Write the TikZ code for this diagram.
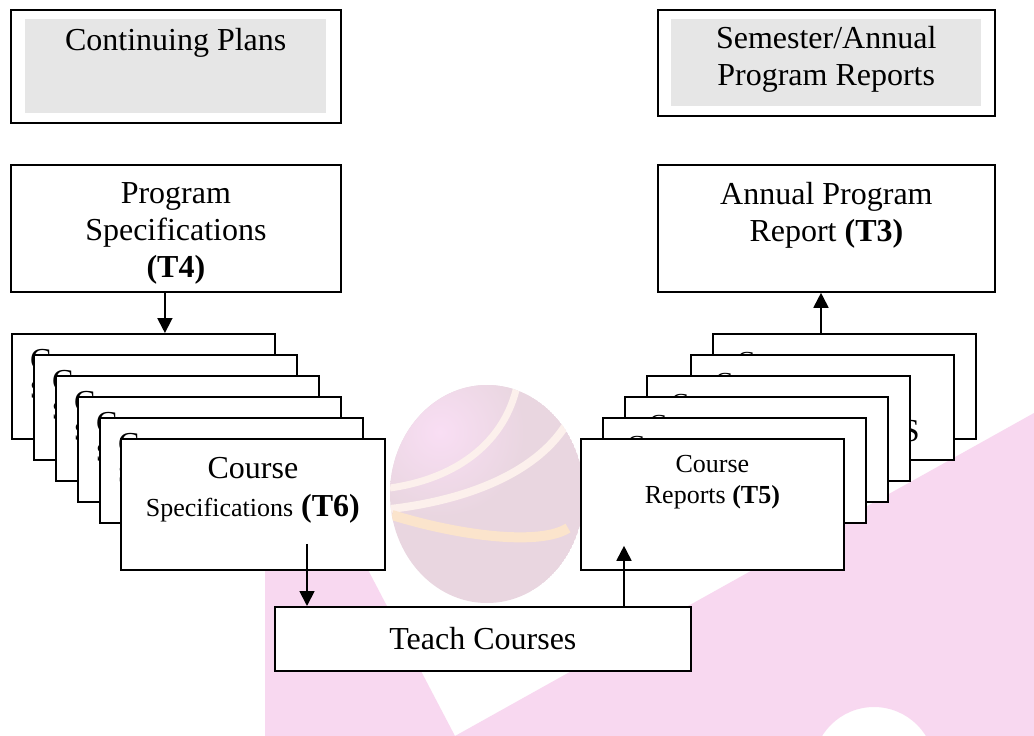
\documentclass[tikz,border=0pt]{standalone}
\usepackage{fontspec}
\setmainfont{Liberation Serif}
\usetikzlibrary{positioning, calc, arrows.meta}
\definecolor{BoxGrey}{HTML}{E6E6E6}
\definecolor{MarkPink}{HTML}{F8D8F0}
\definecolor{MarkSphere}{HTML}{E9D6E0}
\definecolor{MarkHigh}{HTML}{F9DEF4}
\definecolor{MarkCream}{HTML}{FCF0EC}
\definecolor{MarkGold}{HTML}{FBE4CC}
\newcommand{\txtbig}{\fontsize{32}{37}\selectfont}
\newcommand{\txtsmall}{\fontsize{26}{31}\selectfont}

\begin{document}
\begin{tikzpicture}[x=1pt, y=-1pt,
    box/.style={draw, line width=1.8pt, fill=white, inner sep=0pt, anchor=north west},
    greybox/.style={fill=BoxGrey, inner sep=0pt, anchor=north west},
    bigtxt/.style={font=\txtbig, inner sep=0pt, align=center},
    smalltxt/.style={font=\txtsmall, inner sep=0pt, align=center},
    arr/.style={-{Triangle[width=15pt,length=15pt]}, line width=1.8pt}]
    \useasboundingbox (0,0) rectangle (1034,736);
    \fill[white] (0,0) rectangle (1034,736);

    % Watermark
    \begin{scope}
        \clip (0,0) rectangle (1034,736);
        \fill[MarkPink] (265,545) -- (265,736) -- (455,736) -- (355,545) -- cycle;
        \fill[MarkPink, even odd rule] (455,736) -- (1034,413) -- (1034,736) -- cycle
            (874,768) circle (61);
    \end{scope}
    \begin{scope}
        \clip (487,494) ellipse (97 and 109);
        \fill[MarkSphere] (487,494) ellipse (97 and 109);
        \shade[inner color=MarkHigh, outer color=MarkSphere] (440,432) circle (85);
        \draw[MarkCream, line width=7pt] (517,386) .. controls (505,440) and (460,478) .. (390,488);
        \draw[MarkCream, line width=8pt] (572,414) .. controls (545,470) and (470,500) .. (390,509);
        \draw[MarkGold, line width=10pt] (392,515) .. controls (460,536) and (540,546) .. (568,528);
    \end{scope}

    % Top row
    \node[box, minimum width=330pt, minimum height=113pt] (plans) at (10,9) {};
    \node[greybox, minimum width=301pt, minimum height=94pt] (plansin) at (25,19) {};
    \node[bigtxt, anchor=base] (planstext) at ($(plansin.north)+(0,31.5)$) {Continuing Plans};

    \node[box, minimum width=337pt, minimum height=106pt] (reports) at (657,9) {};
    \node[greybox, minimum width=310pt, minimum height=87pt] (reportsin) at (671,19) {};
    \node[bigtxt] (reportstext) at ($(reportsin.center)+(0,-3.5)$) {Semester/Annual\\Program Reports};

    \node[box, minimum width=330pt, minimum height=127pt] (progspec) at (10,164) {};
    \node[bigtxt] (progtext) at ($(progspec.center)+(0,5.5)$) {Program\\Specifications\\\textbf{(T4)}};

    \node[box, minimum width=337pt, minimum height=127pt] (annual) at (657,164) {};
    \node[bigtxt] (annualtext) at ($(annual.center)+(0,-13)$) {Annual Program\\Report \textbf{(T3)}};

    % Course specifications stack (only the first letters peek out)
    \foreach \i/\x/\y in {1/11/333, 2/33/354, 3/55/375, 4/77/396, 5/99/417} {
        \node[box, minimum width=263pt, minimum height=105pt] (cs\i) at (\x,\y) {};
        \node[bigtxt, anchor=base west] (cs\i-a) at ($(cs\i.north west)+(19,37)$) {C};
        \node[smalltxt, anchor=base west] (cs\i-b) at ($(cs\i.north west)+(19,65)$) {S};
    }
    \node[box, minimum width=264pt, minimum height=131pt] (csfront) at (120,438) {};
    \node[bigtxt, anchor=base] (csfront-a) at ($(csfront.north)+(0,40)$) {Course};
    \node[bigtxt, anchor=base] (csfront-b) at ($(csfront.north)+(0,78)$) {{\txtsmall Specifications} \textbf{(T6)}};

    % Course reports stack
    \foreach \i/\x/\y in {1/712/333, 2/690/354, 3/646/375, 4/624/396, 5/602/417} {
        \node[box, minimum width=263pt, minimum height=105pt] (cr\i) at (\x,\y) {};
        \node[smalltxt, anchor=base west] (cr\i-a) at ($(cr\i.north west)+(25,36)$) {C};
        \node[bigtxt, anchor=base east] (cr\i-b) at ($(cr\i.north east)+(-35,87)$) {S};
    }
    \node[box, minimum width=263pt, minimum height=131pt] (crfront) at (580,438) {};
    \node[smalltxt, anchor=base] (crfront-a) at ($(crfront.north)+(0,34)$) {Course};
    \node[smalltxt, anchor=base] (crfront-b) at ($(crfront.north)+(0,65)$) {Reports \textbf{(T5)}};

    \node[box, font=\txtbig, minimum width=416pt, minimum height=64pt] (teach) at (274,606) {Teach Courses};

    % Arrows
    \coordinate (downA) at ($(progspec.south)+(-11,0)$);
    \coordinate (upA) at ($(cr1.north west)+(109,0)$);
    \coordinate (downB) at ($(csfront.south west)+(187,-27)$);
    \coordinate (upB) at ($(crfront.south west)+(44,-25)$);
    \draw[arr] (downA) -- (downA |- cs1.north);
    \draw[arr] (upA) -- (upA |- annual.south);
    \draw[arr] (downB) -- (downB |- teach.north);
    \draw[arr] (upB |- teach.north) -- (upB);
\end{tikzpicture}
\end{document}
